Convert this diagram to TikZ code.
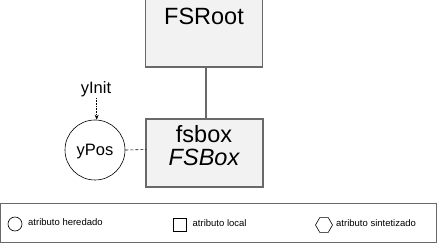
\documentclass[tikz,border=0pt]{standalone}
\usepackage{fontspec}
\setmainfont{Liberation Sans}
\usetikzlibrary{shapes.geometric,arrows.meta}
\definecolor{edgegray}{RGB}{105,105,105}
\definecolor{boxfill}{RGB}{242,242,242}
\begin{document}
\begin{tikzpicture}[x=1pt,y=-1pt,
  symbolbox/.style={draw=edgegray,line width=1.4pt,fill=boxfill},
  attrcircle/.style={circle,draw=black,line width=0.6pt,minimum size=60pt,inner sep=0pt},
  bigtext/.style={font=\fontsize{23.5}{26}\selectfont},
  attrtext/.style={font=\fontsize{16.5}{18}\selectfont},
  legendtext/.style={font=\fontsize{9.5}{11}\selectfont,anchor=west,inner sep=0pt},
  dep/.style={line width=0.6pt}]
\useasboundingbox (0,0) rectangle (437,243);

% grammar symbols
\draw[symbolbox] (145.5,-5) rectangle (262.5,67);
\node[bigtext] (root) at (204,16) {FSRoot};
\coordinate (rootbot) at (206,67);
\draw[symbolbox] (146,119) rectangle (263,187);
\node[bigtext] (fsbox) at (204,134) {fsbox};
\node[bigtext] (fsboxtype) at (204,157) {\itshape FSBox};
\coordinate (boxtop) at (206,119);
\coordinate (boxleft) at (146,149.5);
\draw[edgegray,line width=1.4pt] (rootbot) -- (boxtop);

% inherited attribute
\node[attrcircle] (ypos) at (95,150) {};
\node[attrtext] at (95,152) {yPos};
\node[attrtext] (yinit) at (96,89) {yInit};
\coordinate (yinitbot) at (96.7,98);
\draw[dep,densely dotted,-{Stealth[length=5pt,width=4pt]}] (yinitbot) -- (ypos.north -| yinitbot);
\draw[dep,densely dashed] (ypos.east) -- (boxleft);

% legend
\draw[edgegray,line width=1pt] (0.5,203.5) rectangle (436.2,242.5);
\node[circle,draw=black,line width=0.6pt,minimum size=14pt,inner sep=0pt] (lcirc) at (15,224) {};
\node[legendtext] (lcirct) at (28,222.5) {atributo heredado};
\node[rectangle,draw=black,line width=0.6pt,minimum size=13pt,inner sep=0pt] (lsq) at (180,224.5) {};
\node[legendtext] (lsqt) at (192.5,223) {atributo local};
\node[regular polygon,regular polygon sides=6,shape border rotate=0,draw=black,line width=0.6pt,minimum size=17pt,inner sep=0pt] (lhex) at (324,225) {};
\node[legendtext] (lhext) at (336,223) {atributo sintetizado};
\end{tikzpicture}
\end{document}
